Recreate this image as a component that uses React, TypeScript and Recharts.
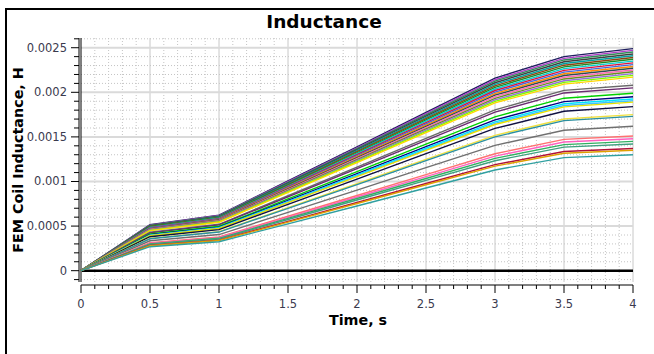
import { LineChart, Line, XAxis, YAxis, ReferenceLine } from 'recharts'

const times = [0, 0.5, 1, 1.5, 2, 2.5, 3, 3.5, 4]

// one row per trace, values in H at each time step
const inductance: number[][] = [
    [0, 515e-6, 623e-6, 1006e-6, 1389e-6, 1775e-6, 2159e-6, 2400e-6, 2490e-6],
    [0, 511e-6, 618e-6, 998e-6, 1378e-6, 1761e-6, 2141e-6, 2381e-6, 2470e-6],
    [0, 508e-6, 614e-6, 991e-6, 1368e-6, 1748e-6, 2125e-6, 2363e-6, 2452e-6],
    [0, 503e-6, 608e-6, 982e-6, 1356e-6, 1733e-6, 2107e-6, 2343e-6, 2430e-6],
    [0, 497e-6, 603e-6, 974e-6, 1345e-6, 1718e-6, 2089e-6, 2323e-6, 2410e-6],
    [0, 495e-6, 598e-6, 966e-6, 1334e-6, 1704e-6, 2072e-6, 2304e-6, 2390e-6],
    [0, 492e-6, 593e-6, 957e-6, 1322e-6, 1690e-6, 2055e-6, 2285e-6, 2370e-6],
    [0, 484e-6, 588e-6, 949e-6, 1311e-6, 1676e-6, 2037e-6, 2265e-6, 2350e-6],
    [0, 483e-6, 583e-6, 941e-6, 1300e-6, 1661e-6, 2020e-6, 2246e-6, 2330e-6],
    [0, 478e-6, 578e-6, 933e-6, 1289e-6, 1647e-6, 2003e-6, 2227e-6, 2310e-6],
    [0, 472e-6, 573e-6, 925e-6, 1278e-6, 1633e-6, 1985e-6, 2208e-6, 2290e-6],
    [0, 471e-6, 568e-6, 917e-6, 1267e-6, 1619e-6, 1968e-6, 2188e-6, 2270e-6],
    [0, 466e-6, 563e-6, 909e-6, 1256e-6, 1604e-6, 1951e-6, 2169e-6, 2250e-6],
    [0, 461e-6, 558e-6, 901e-6, 1244e-6, 1590e-6, 1933e-6, 2150e-6, 2230e-6],
    [0, 458e-6, 553e-6, 893e-6, 1233e-6, 1576e-6, 1916e-6, 2130e-6, 2210e-6],
    [0, 452e-6, 548e-6, 885e-6, 1222e-6, 1561e-6, 1899e-6, 2111e-6, 2190e-6],
    [0, 449e-6, 543e-6, 877e-6, 1211e-6, 1547e-6, 1881e-6, 2092e-6, 2170e-6],
    [0, 431e-6, 520e-6, 840e-6, 1161e-6, 1483e-6, 1803e-6, 2022e-6, 2080e-6],
    [0, 424e-6, 513e-6, 828e-6, 1144e-6, 1462e-6, 1777e-6, 1993e-6, 2050e-6],
    [0, 412e-6, 498e-6, 804e-6, 1110e-6, 1419e-6, 1725e-6, 1934e-6, 1990e-6],
    [0, 404e-6, 488e-6, 788e-6, 1088e-6, 1390e-6, 1691e-6, 1895e-6, 1950e-6],
    [0, 398e-6, 481e-6, 778e-6, 1074e-6, 1373e-6, 1669e-6, 1871e-6, 1925e-6],
    [0, 394e-6, 476e-6, 770e-6, 1063e-6, 1358e-6, 1652e-6, 1852e-6, 1905e-6],
    [0, 391e-6, 473e-6, 764e-6, 1055e-6, 1348e-6, 1639e-6, 1837e-6, 1890e-6],
    [0, 381e-6, 460e-6, 743e-6, 1027e-6, 1312e-6, 1595e-6, 1788e-6, 1840e-6],
    [0, 362e-6, 438e-6, 707e-6, 977e-6, 1248e-6, 1517e-6, 1701e-6, 1750e-6],
    [0, 358e-6, 433e-6, 699e-6, 965e-6, 1233e-6, 1500e-6, 1682e-6, 1730e-6],
    [0, 335e-6, 405e-6, 654e-6, 904e-6, 1155e-6, 1405e-6, 1575e-6, 1620e-6],
    [0, 313e-6, 378e-6, 610e-6, 843e-6, 1077e-6, 1311e-6, 1472e-6, 1510e-6],
    [0, 306e-6, 370e-6, 598e-6, 826e-6, 1055e-6, 1285e-6, 1443e-6, 1480e-6],
    [0, 300e-6, 363e-6, 586e-6, 809e-6, 1034e-6, 1259e-6, 1414e-6, 1450e-6],
    [0, 294e-6, 355e-6, 574e-6, 792e-6, 1012e-6, 1233e-6, 1385e-6, 1420e-6],
    [0, 284e-6, 343e-6, 553e-6, 764e-6, 977e-6, 1189e-6, 1336e-6, 1370e-6],
    [0, 279e-6, 338e-6, 545e-6, 753e-6, 963e-6, 1172e-6, 1316e-6, 1350e-6],
    [0, 269e-6, 325e-6, 525e-6, 725e-6, 927e-6, 1129e-6, 1268e-6, 1300e-6],
]

const traceColors = [
    '#1f1f5f', '#b03cc8', '#2e8b57', '#404040', '#00a0a0', '#8b4513', '#228b22',
    '#00ced1', '#dc143c', '#4169e1', '#ff8c00', '#2f4f4f', '#ff69b4', '#6b8e23',
    '#9370db', '#7cfc00', '#ffd700', '#696969', '#6a2c70', '#00d000', '#000080',
    '#00e5ff', '#40c0ff', '#e8e000', '#101040', '#f0e040', '#2a8fa0', '#707070',
    '#ff7070', '#ff60c0', '#30b060', '#40a080', '#b0103a', '#e0a000', '#30a0a0',
]

const xTicks = [
    0, 0.1, 0.2, 0.3, 0.4, 0.5, 0.6, 0.7, 0.8, 0.9, 1, 1.1, 1.2, 1.3, 1.4, 1.5, 1.6, 1.7, 1.8, 1.9,
    2, 2.1, 2.2, 2.3, 2.4, 2.5, 2.6, 2.7, 2.8, 2.9, 3, 3.1, 3.2, 3.3, 3.4, 3.5, 3.6, 3.7, 3.8, 3.9, 4,
]
const yTicks = [
    -0.0001, 0, 0.0001, 0.0002, 0.0003, 0.0004, 0.0005, 0.0006, 0.0007, 0.0008, 0.0009, 0.001,
    0.0011, 0.0012, 0.0013, 0.0014, 0.0015, 0.0016, 0.0017, 0.0018, 0.0019, 0.002,
    0.0021, 0.0022, 0.0023, 0.0024, 0.0025, 0.0026,
]

const isMajorX = (v: number) => Math.abs(v * 2 - Math.round(v * 2)) < 1e-6
const isMajorY = (v: number) => Math.abs(v / 0.0005 - Math.round(v / 0.0005)) < 1e-6

const data = times.map((t, i) => {
    const row: Record<string, number> = { t }
    inductance.forEach((s, k) => {
        row['s' + k] = s[i]
    })
    return row
})

const tickFont = { fontFamily: 'DejaVu Sans', fontSize: 11.5, fill: '#3a3a4e' }

const XTick = ({ x, y, payload }: any) => {
    const major = isMajorX(payload.value)
    return (
        <g>
            <line x1={x} x2={x} y1={y} y2={y + (major ? 8 : 4)} stroke="#000" />
            {major && (
                <text x={x} y={y + 22.5} textAnchor="middle" {...tickFont}>
                    {payload.value}
                </text>
            )}
        </g>
    )
}

const YTick = ({ x, y, payload }: any) => {
    const major = isMajorY(payload.value)
    return (
        <g>
            <line x1={x - (major ? 8 : 5)} x2={x} y1={y} y2={y} stroke="#000" />
            {major && payload.value >= 0 && (
                <text x={x - 12} y={y + 4} textAnchor="end" {...tickFont}>
                    {payload.value}
                </text>
            )}
        </g>
    )
}

export default function App() {
    const yDomain = [-0.000127, 0.002609]
    return (
        <div style={{ position: 'fixed', left: 0, top: 0, width: 654, height: 354, overflow: 'hidden', background: '#fff' }}>
            <LineChart width={654} height={354} data={data} margin={{ top: 38, right: 21, bottom: 29, left: 19 }}>
                <XAxis xAxisId="x" dataKey="t" type="number" domain={[0, 4]} height={3} tick={false} axisLine={false} tickLine={false} />
                <XAxis
                    xAxisId="xa"
                    dataKey="t"
                    type="number"
                    domain={[0, 4]}
                    ticks={xTicks}
                    interval={0}
                    height={40}
                    tickSize={0}
                    tickMargin={0}
                    tickLine={false}
                    axisLine={{ stroke: '#000' }}
                    tick={<XTick />}
                />
                <YAxis yAxisId="y" type="number" domain={yDomain} allowDataOverflow width={2} tick={false} axisLine={false} tickLine={false} />
                <YAxis
                    yAxisId="ya"
                    type="number"
                    domain={yDomain}
                    allowDataOverflow
                    ticks={yTicks}
                    interval={0}
                    width={60}
                    tickSize={0}
                    tickMargin={0}
                    tickLine={false}
                    axisLine={{ stroke: '#000' }}
                    tick={<YTick />}
                />

                {xTicks.filter((v) => !isMajorX(v)).map((v) => (
                    <ReferenceLine key={'mx' + v} xAxisId="x" yAxisId="y" x={v} stroke="#c4c4c4" strokeDasharray="1 2" />
                ))}
                {yTicks.filter((v) => !isMajorY(v)).map((v) => (
                    <ReferenceLine key={'my' + v} xAxisId="x" yAxisId="y" y={v} stroke="#c4c4c4" strokeDasharray="1 2" />
                ))}
                {xTicks.filter((v) => isMajorX(v) && v > 0).map((v) => (
                    <ReferenceLine key={'Mx' + v} xAxisId="x" yAxisId="y" x={v} stroke="#c8c8c8" />
                ))}
                {yTicks.filter((v) => isMajorY(v) && v > 0).map((v) => (
                    <ReferenceLine key={'My' + v} xAxisId="x" yAxisId="y" y={v} stroke="#dadada" strokeWidth={2} />
                ))}
                <ReferenceLine xAxisId="x" yAxisId="y" x={0} stroke="#000" />
                <ReferenceLine xAxisId="x" yAxisId="y" y={0} stroke="#000" strokeWidth={2.5} />

                {inductance.map((_, k) => (
                    <Line
                        key={k}
                        xAxisId="x"
                        yAxisId="y"
                        type="linear"
                        dataKey={'s' + k}
                        stroke={traceColors[k % traceColors.length]}
                        strokeWidth={1.4}
                        dot={false}
                        isAnimationActive={false}
                    />
                ))}
            </LineChart>

            <svg width={654} height={354} style={{ position: 'absolute', left: 0, top: 0, pointerEvents: 'none' }}>
                <text x={324} y={28} textAnchor="middle" fontFamily="DejaVu Sans" fontWeight="bold" fontSize={18.5} fill="#000">
                    Inductance
                </text>
                <text
                    x={23}
                    y={160}
                    textAnchor="middle"
                    transform="rotate(-90, 23, 160)"
                    fontFamily="DejaVu Sans"
                    fontWeight="bold"
                    fontSize={14.3}
                    fill="#000"
                >
                    FEM Coil Inductance, H
                </text>
                <text x={358} y={325} textAnchor="middle" fontFamily="DejaVu Sans" fontWeight="bold" fontSize={14.3} fill="#000">
                    Time, s
                </text>
            </svg>
            <div style={{ position: 'absolute', left: 5, top: 8, width: 700, height: 400, borderLeft: '2px solid #000', borderTop: '2px solid #000' }} />
        </div>
    )
}
